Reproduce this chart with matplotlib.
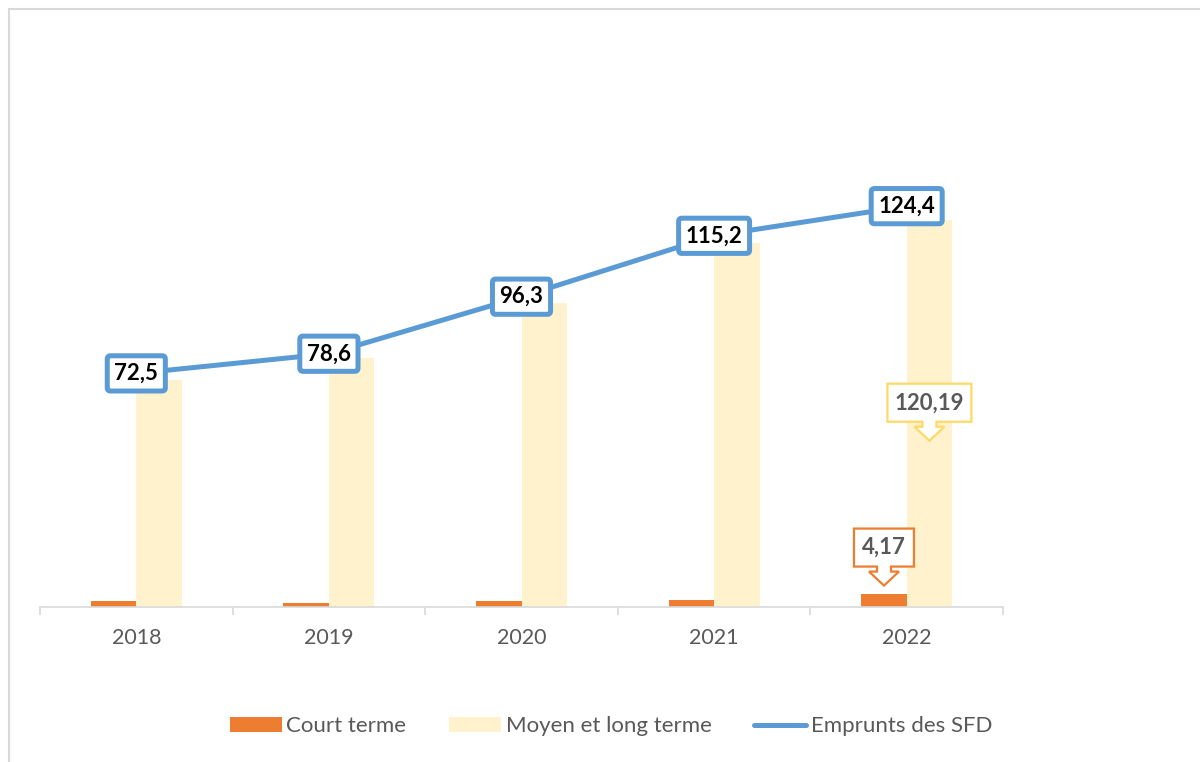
import numpy as np
import matplotlib.pyplot as plt
from matplotlib.patches import Polygon, Rectangle
from matplotlib.transforms import ScaledTranslation

plt.rcParams['font.family'] = ['Lato', 'DejaVu Sans']

# Data
annees = ['2018', '2019', '2020', '2021', '2022']
court_terme = [1.9, 1.2, 1.9, 2.2, 4.17]
moyen_long = [70.6, 77.4, 94.4, 113.0, 120.19]
emprunts = [72.5, 78.6, 96.3, 115.2, 124.4]
emprunts_labels = ['72,5', '78,6', '96,3', '115,2', '124,4']

orange = '#ED7D31'
jaune = '#FFF2CC'
jaune_bord = '#FFD966'
bleu = '#5B9BD5'
gris = '#595959'

fig = plt.figure(figsize=(12, 7.62), dpi=100)
ax = fig.add_axes([40 / 1200, 155 / 762, 963 / 1200, 580 / 762])

x = np.arange(len(annees))
w = 0.236
b1 = ax.bar(x - w / 2, court_terme, w, color=orange, label='Court terme')
b2 = ax.bar(x + w / 2, moyen_long, w, color=jaune, label='Moyen et long terme')
l1, = ax.plot(x, emprunts, color=bleu, lw=3.6, solid_capstyle='round', label='Emprunts des SFD')

# labels on the line
for xi, v, lab in zip(x, emprunts, emprunts_labels):
    ax.text(xi, v, lab, ha='center', va='center', fontsize=16, fontweight='bold',
            color='black', zorder=5,
            bbox=dict(boxstyle='round,pad=0.32,rounding_size=0.15', fc='white',
                      ec=bleu, lw=3.6))


# callout boxes with arrow (offsets in pixels from the arrow tip)
def callout(xd, yd, dy, half_w, text, edge):
    shape = [(0, 0), (15, 14), (7, 14), (7, 19), (half_w, 19), (half_w, 57),
             (-half_w, 57), (-half_w, 19), (-7, 19), (-7, 14), (-15, 14)]
    pts = [(px / 100, (py + dy) / 100) for px, py in shape]
    tr = fig.dpi_scale_trans + ScaledTranslation(xd, yd, ax.transData)
    ax.add_patch(Polygon(pts, closed=True, fc='white', ec=edge, lw=1.6,
                         transform=tr, zorder=6, clip_on=False))
    ax.annotate(text, (xd, yd), xytext=(0, dy + 38), textcoords='offset pixels',
                ha='center', va='center', fontsize=16, fontweight='bold',
                color=gris, zorder=7)


callout(x[4] + w / 2, moyen_long[4], -221, 42, '120,19', jaune_bord)
callout(x[4] - w / 2, court_terme[4], 8, 30, '4,17', orange)

ax.set_xlim(-0.5, 4.5)
ax.set_ylim(0, 180)
ax.set_xticks(x)
ax.set_xticklabels(annees, fontsize=15.5, color=gris)
ax.set_xticks(np.arange(-0.5, 5, 1), minor=True)
ax.tick_params(axis='x', which='major', length=0, pad=15)
ax.tick_params(axis='x', which='minor', length=6, color='#D9D9D9', width=1.2)
ax.set_yticks([])
for s in ['top', 'right', 'left']:
    ax.spines[s].set_visible(False)
ax.spines['bottom'].set_color('#D9D9D9')
ax.spines['bottom'].set_linewidth(1.2)

fig.legend([b1, b2, l1], ['Court terme', 'Moyen et long terme', 'Emprunts des SFD'],
           loc='center', bbox_to_anchor=(0.509, 0.047), ncol=3, frameon=False,
           fontsize=16, labelcolor=gris, handlelength=2.36, handleheight=0.65,
           handletextpad=0.2, columnspacing=1.9)

# outer chart border
fig.patches.append(Rectangle((9 / 1200, -0.1), 1.2, 1.1 - 9 / 762, transform=fig.transFigure,
                             fill=False, ec='#D9D9D9', lw=1.5))

fig.savefig('out.png', dpi=100)
